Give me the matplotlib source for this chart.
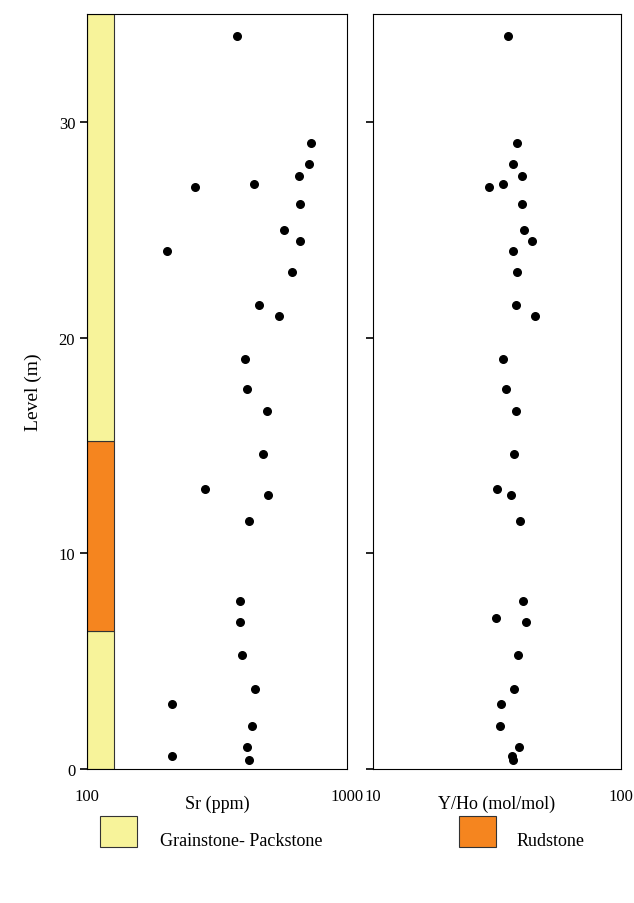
import matplotlib
matplotlib.use("Agg")
import matplotlib.pyplot as plt
from matplotlib.patches import Rectangle

plt.rcParams['font.family'] = ['Liberation Serif', 'DejaVu Serif']

sr_level = [34.0, 29.0, 28.05, 27.5, 27.0, 27.1, 26.2, 25.0, 24.5, 24.0, 23.05, 21.5, 21.0, 19.0,
            17.6, 16.6, 14.6, 13.0, 12.7, 11.5, 7.8, 6.8, 5.3, 3.7, 3.0, 2.0, 1.0, 0.42, 0.6]
sr_ppm = [377, 727, 714, 653, 260, 439, 659, 572, 659, 203, 614, 459, 548, 405,
          411, 492, 475, 284, 496, 419, 388, 388, 394, 443, 212, 431, 411, 419, 212]

yho_level = [34.0, 29.0, 28.05, 27.5, 27.0, 27.1, 26.2, 25.0, 24.5, 24.0, 23.05, 21.5, 21.0, 19.0,
             17.6, 16.6, 14.6, 13.0, 12.7, 11.5, 7.8, 7.0, 6.8, 5.3, 3.7, 3.0, 2.0, 1.0, 0.6, 0.4]
yho = [35.0, 38.1, 36.7, 39.9, 29.4, 33.4, 39.9, 40.6, 43.8, 36.7, 38.1, 37.7, 45.0, 33.4,
       34.4, 37.7, 37.0, 31.6, 36.0, 39.2, 40.3, 31.3, 41.4, 38.4, 37.0, 32.8, 32.5, 38.8, 36.3, 36.7]

litho_names = ["Grainstone- Packstone", "Rudstone", "Grainstone- Packstone"]
litho_bottom = [0, 6.4, 15.2]
litho_top = [6.4, 15.2, 35]
litho_colors = {"Grainstone- Packstone": "#f7f39a", "Rudstone": "#f5851f"}

fig = plt.figure(figsize=(6.34, 9.04), dpi=100)
ax1 = fig.add_axes([87/634, 134/904, 260/634, 755/904])
ax2 = fig.add_axes([373/634, 134/904, 248/634, 755/904])

for ax in (ax1, ax2):
    ax.set_xscale('log')
    ax.set_ylim(0, 35)
    ax.set_yticks([0, 10, 20, 30])
    ax.minorticks_off()
    ax.tick_params(axis='y', direction='out', length=5, width=1.2, labelsize=12)
    ax.tick_params(axis='x', direction='out', length=0, pad=14, labelsize=12)
    for s in ax.spines.values():
        s.set_linewidth(0.8)

ax1.set_xlim(100, 1000)
ax1.set_xticks([100, 1000])
ax1.set_xticklabels(['100', '1000'])
ax1.minorticks_off()
for b, t, n in zip(litho_bottom, litho_top, litho_names):
    ax1.add_patch(Rectangle((100, b), 27, t - b, facecolor=litho_colors[n],
                            edgecolor='#333333', linewidth=0.8, zorder=1))
ax1.scatter(sr_ppm, sr_level, s=30, color='black', zorder=3)
ax1.set_ylabel('Level (m)', fontsize=14, labelpad=12)

ax2.set_xlim(10, 100)
ax2.set_xticks([10, 100])
ax2.set_xticklabels(['10', '100'])
ax2.minorticks_off()
ax2.set_yticklabels([])
ax2.scatter(yho, yho_level, s=30, color='black', zorder=3)

fig.text(217/634, 1-804/904, 'Sr (ppm)', fontsize=13, ha='center', va='center')
fig.text(497/634, 1-804/904, 'Y/Ho (mol/mol)', fontsize=13, ha='center', va='center')

fig.patches.append(Rectangle((100/634, 1-848/904), 37/634, 31/904, transform=fig.transFigure,
                             facecolor=litho_colors["Grainstone- Packstone"], edgecolor='#333333', lw=0.8))
fig.text(160/634, 1-842/904, "Grainstone- Packstone", fontsize=13, va='center')
fig.patches.append(Rectangle((459/634, 1-848/904), 37/634, 31/904, transform=fig.transFigure,
                             facecolor=litho_colors["Rudstone"], edgecolor='#333333', lw=0.8))
fig.text(517/634, 1-842/904, "Rudstone", fontsize=13, va='center')

fig.savefig('out.png', dpi=100)
